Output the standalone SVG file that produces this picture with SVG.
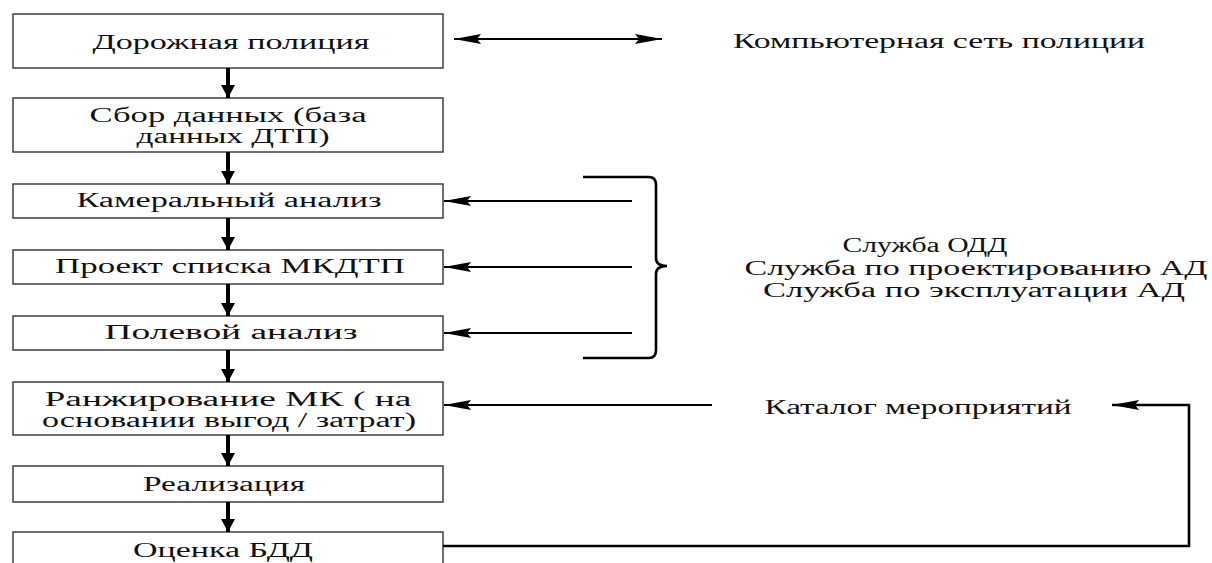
<svg xmlns="http://www.w3.org/2000/svg" width="1212" height="563" viewBox="0 0 1212 563">
<defs>
<style>
.box{fill:#fff;stroke:#333;stroke-width:1.4}
text{font-family:'Liberation Serif','DejaVu Serif','Times New Roman',serif;font-size:20px;fill:#111;text-anchor:middle}
.v{stroke:#000;stroke-width:4;fill:none}
.h{stroke:#000;stroke-width:2;fill:none}
.hb{stroke:#000;stroke-width:2.6;fill:none}
</style>
<marker id="vh" markerUnits="userSpaceOnUse" markerWidth="16" markerHeight="16" viewBox="0 0 16 16" refX="14" refY="8" orient="auto">
<path d="M1,1 L14,8 L1,15 Z" fill="#000"/>
</marker>
<marker id="hh" markerUnits="userSpaceOnUse" markerWidth="28" markerHeight="12" viewBox="0 0 28 12" refX="27" refY="6" orient="auto">
<path d="M0,1 L27,6 L0,11 L4,6 Z" fill="#000"/>
</marker>
<marker id="hs" markerUnits="userSpaceOnUse" markerWidth="28" markerHeight="12" viewBox="0 0 28 12" refX="27" refY="6" orient="auto-start-reverse">
<path d="M0,1 L27,6 L0,11 L4,6 Z" fill="#000"/>
</marker>
</defs>
<rect width="1212" height="563" fill="#fff"/>

<g font-family="Liberation Serif, DejaVu Serif, serif" font-size="20" text-anchor="middle">
<g id="n1"><rect class="box" x="13" y="14" width="430" height="54"/><text x="231" y="49" textLength="277" lengthAdjust="spacingAndGlyphs">Дорожная полиция</text></g>
<g id="n2"><rect class="box" x="13" y="98" width="430" height="54"/><text x="228" y="122" textLength="277" lengthAdjust="spacingAndGlyphs">Сбор данных (база</text><text x="233" y="143" textLength="193" lengthAdjust="spacingAndGlyphs">данных ДТП)</text></g>
<g id="n3"><rect class="box" x="13" y="184" width="430" height="34"/><text x="229" y="207" textLength="305" lengthAdjust="spacingAndGlyphs">Камеральный анализ</text></g>
<g id="n4"><rect class="box" x="13" y="250" width="430" height="34"/><text x="230" y="273" textLength="350" lengthAdjust="spacingAndGlyphs">Проект списка МКДТП</text></g>
<g id="n5"><rect class="box" x="13" y="316" width="430" height="34"/><text x="231" y="339" textLength="253" lengthAdjust="spacingAndGlyphs">Полевой анализ</text></g>
<g id="n6"><rect class="box" x="13" y="382" width="430" height="53"/><text x="228" y="406" textLength="367" lengthAdjust="spacingAndGlyphs">Ранжирование МК ( на</text><text x="229" y="427" textLength="374" lengthAdjust="spacingAndGlyphs">основании выгод / затрат)</text></g>
<g id="n7"><rect class="box" x="13" y="466" width="430" height="36"/><text x="224" y="491" textLength="162" lengthAdjust="spacingAndGlyphs">Реализация</text></g>
<g id="n8"><rect class="box" x="13" y="532" width="430" height="40"/><text x="223" y="557" textLength="180" lengthAdjust="spacingAndGlyphs">Оценка БДД</text></g>

<g id="lbl-net"><text x="939" y="48" textLength="412" lengthAdjust="spacingAndGlyphs">Компьютерная сеть полиции</text></g>
<g id="lbl-services">
<text x="925" y="252" textLength="165" lengthAdjust="spacingAndGlyphs">Служба ОДД</text>
<text x="976" y="275" textLength="463" lengthAdjust="spacingAndGlyphs">Служба по проектированию АД</text>
<text x="974" y="297" textLength="422" lengthAdjust="spacingAndGlyphs">Служба по эксплуатации АД</text>
</g>
<g id="lbl-cat"><text x="918" y="414" textLength="307" lengthAdjust="spacingAndGlyphs">Каталог мероприятий</text></g>
</g>

<g id="connectors">
<line class="v" x1="228" y1="68" x2="228" y2="98" marker-end="url(#vh)"/>
<line class="v" x1="228" y1="152" x2="228" y2="184" marker-end="url(#vh)"/>
<line class="v" x1="228" y1="218" x2="228" y2="250" marker-end="url(#vh)"/>
<line class="v" x1="228" y1="284" x2="228" y2="316" marker-end="url(#vh)"/>
<line class="v" x1="228" y1="350" x2="228" y2="382" marker-end="url(#vh)"/>
<line class="v" x1="228" y1="435" x2="228" y2="466" marker-end="url(#vh)"/>
<line class="v" x1="228" y1="502" x2="228" y2="532" marker-end="url(#vh)"/>
<line class="h" x1="454" y1="39" x2="662" y2="39" marker-start="url(#hs)" marker-end="url(#hh)"/>
<line class="h" x1="632" y1="201" x2="444" y2="201" marker-end="url(#hh)"/>
<line class="h" x1="632" y1="267" x2="444" y2="267" marker-end="url(#hh)"/>
<line class="h" x1="632" y1="333" x2="444" y2="333" marker-end="url(#hh)"/>
<path class="hb" d="M583 177 H649 Q656 177 656 185 V258 Q656 266 667 266 Q656 266 656 274 V350 Q656 358 649 358 H583"/>
<line class="h" x1="712" y1="405" x2="444" y2="405" marker-end="url(#hh)"/>
<path class="hb" d="M443 546 H1189 V405 H1112" marker-end="url(#hh)"/>
</g>
</svg>
